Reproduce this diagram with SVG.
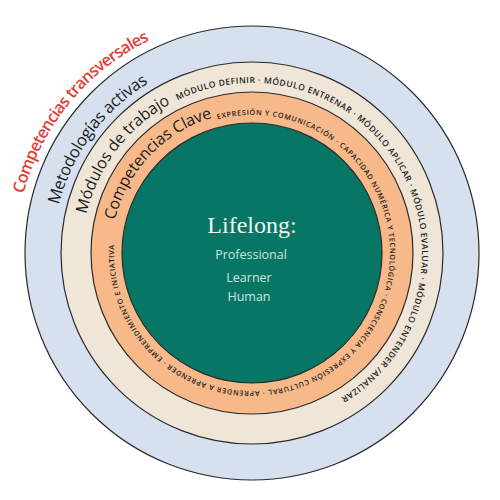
<svg xmlns="http://www.w3.org/2000/svg" width="500" height="500" viewBox="0 0 500 500">
<style>
.ring{stroke:#2b2b2b;stroke-width:1.2}
.big{font-family:"Open Sans","Noto Sans",sans-serif;font-size:16px;font-weight:500;fill:#1c1c1c}
.red{font-family:"Open Sans","Noto Sans",sans-serif;font-size:16.5px;font-weight:600;fill:#e5403a}
.sm{font-family:"Open Sans","Noto Sans",sans-serif;font-weight:600;fill:#222}
.sub{font-family:"Open Sans","Noto Sans",sans-serif;font-size:12.5px;fill:#cfe6df;text-anchor:middle}
</style>
<defs>
<path id="pRed" d="M23.52,193.91 A236,236 0 0 1 149.66,40.35"/>
<path id="pBlue" d="M58.91,204.86 A199,199 0 0 1 148.62,82.96"/>
<path id="pBeigeL" d="M86.49,214.18 A170,170 0 0 1 170.88,103.60"/>
<path id="pBeigeS" d="M177.48,100.21 A170,170 0 0 1 340.83,397.95"/>
<path id="pOrL" d="M114.84,220.32 A141,141 0 0 1 212.19,117.74"/>
<path id="pOrS" d="M217.45,119.40 A138,138 0 1 1 114.26,244.58"/>
</defs>
<g id="transversales">
<circle class="ring" cx="252" cy="253" r="227" fill="#d6e0ef"/>
<text class="red"><textPath href="#pRed" textLength="205" lengthAdjust="spacing">Competencias transversales</textPath></text>
<text class="big" style="font-size:16.5px"><textPath href="#pBlue" textLength="155" lengthAdjust="spacing">Metodologías activas</textPath></text>
</g>
<g id="modulos">
<circle class="ring" cx="252" cy="253" r="191" fill="#efe6d7"/>
<text class="big"><textPath href="#pBeigeL" textLength="143" lengthAdjust="spacing">Módulos de trabajo</textPath></text>
<text class="sm" font-size="8.5"><textPath href="#pBeigeS" textLength="517" lengthAdjust="spacing">MÓDULO DEFINIR · MÓDULO ENTRENAR · MÓDULO APLICAR · MÓDULO EVALUAR · MÓDULO ENTENDER /ANALIZAR</textPath></text>
</g>
<g id="clave">
<circle class="ring" cx="252" cy="253" r="161" fill="#f7b98a"/>
<text class="big"><textPath href="#pOrL" textLength="148" lengthAdjust="spacing">Competencias Clave</textPath></text>
<text class="sm" font-size="7.2"><textPath href="#pOrS" textLength="693" lengthAdjust="spacing">EXPRESIÓN Y COMUNICACIÓN · CAPACIDAD NUMÉRICA Y TECNOLÓGICA · CONSCIENCIA Y EXPRESIÓN CULTURAL · APRENDER A APRENDER · EMPRENDIMIENTO E INICIATIVA</textPath></text>
</g>
<g id="lifelong">
<circle class="ring" cx="252" cy="253" r="130" fill="#077665"/>
<text x="252" y="233" text-anchor="middle" font-family="'Liberation Serif','DejaVu Serif',serif" font-size="24" fill="#f3f3ee">Lifelong:</text>
<text class="sub" x="251" y="259">Professional</text>
<text class="sub" x="249" y="282">Learner</text>
<text class="sub" x="249" y="301">Human</text>
</g>
</svg>
